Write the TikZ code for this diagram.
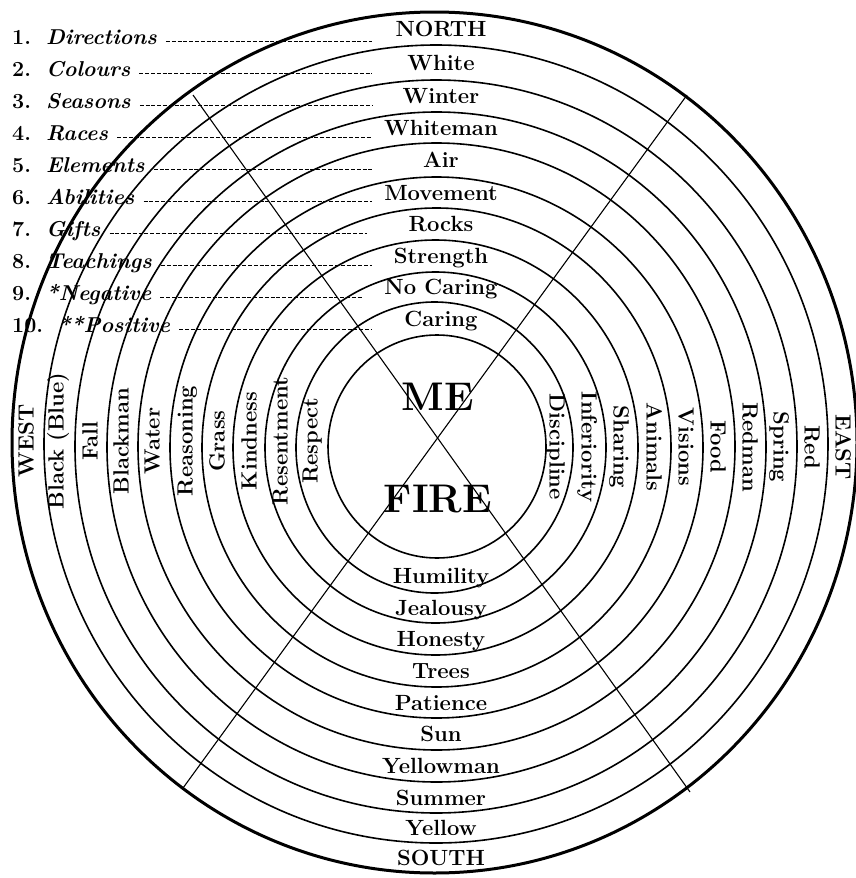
\documentclass[tikz,border=0pt]{standalone}
\usepackage{fontspec}
\usepackage{tikz}
\tikzset{
	ring/.style={line width=1.6pt},
	rim/.style={line width=3pt},
	spoke/.style={line width=1.1pt},
	guide/.style={line width=1.7pt, dash pattern=on 4pt off 1.8pt},
	lab/.style={font=\fontsize{22}{26}\selectfont\bfseries, inner sep=0pt, anchor=base},
	westlab/.style={lab, rotate=90},
	eastlab/.style={lab, rotate=-90},
	key/.style={font=\fontsize{21.5}{25}\selectfont\bfseries, inner sep=0pt, anchor=base west, text height=6pt, text depth=0pt},
	core/.style={font=\fontsize{40}{44}\selectfont\bfseries, inner sep=0pt, anchor=base}
}

\begin{document}
\begin{tikzpicture}[x=1pt,y=-1pt]
		%%%%% START %%%%%
		\useasboundingbox (0,0) rectangle (855,878);
		
		% rings, inner to outer
		\draw[ring] (437,446.5) ellipse [x radius=109pt, y radius=111.5pt];
		\draw[ring] (434.5,447.5) ellipse [x radius=138.5pt, y radius=145.5pt];
		\draw[ring] (435.5,447.5) ellipse [x radius=170.5pt, y radius=175.5pt];
		\draw[ring] (435.5,447.5) ellipse [x radius=202.5pt, y radius=207.5pt];
		\draw[ring] (436.5,447.5) ellipse [x radius=234.5pt, y radius=239.5pt];
		\draw[ring] (436.5,447.5) ellipse [x radius=266.5pt, y radius=270.5pt];
		\draw[ring] (436.5,446.5) ellipse [x radius=298.5pt, y radius=303.5pt];
		\draw[ring] (436.5,447) ellipse [x radius=329.5pt, y radius=335pt];
		\draw[ring] (436,446.5) ellipse [x radius=361pt, y radius=366.5pt];
		\draw[ring] (436,444) ellipse [x radius=392pt, y radius=399pt];
		\draw[rim] (434.5,442.5) ellipse [x radius=422.5pt, y radius=430.5pt];
		
		% the cross
		\coordinate (nw) at (193,95);
		\coordinate (se) at (690,792);
		\coordinate (ne) at (687,95);
		\coordinate (sw) at (183,788);
		\draw[spoke] (nw) -- (se);
		\draw[spoke] (ne) -- (sw);
		
		\node[core] (me) at (438,410) {ME};
		\node[core] (fire) at (438,512) {FIRE};
		
		% north
		\node[lab] (north) at (441,36) {NORTH};
		\node[lab] (white) at (441,70) {White};
		\node[lab] (winter) at (441,103.5) {Winter};
		\node[lab] (whiteman) at (441,135) {Whiteman};
		\node[lab] (air) at (441,167.5) {Air};
		\node[lab] (movement) at (441,200) {Movement};
		\node[lab] (rocks) at (441,231.5) {Rocks};
		\node[lab] (strength) at (441,263.5) {Strength};
		\node[lab] (nocaring) at (441,294.5) {No Caring};
		\node[lab] (caring) at (441,326) {Caring};
		
		% south
		\node[lab] (humility) at (441,583) {Humility};
		\node[lab] (jealousy) at (441,615.5) {Jealousy};
		\node[lab] (honesty) at (441,646.5) {Honesty};
		\node[lab] (trees) at (441,678.5) {Trees};
		\node[lab] (patience) at (441,710) {Patience};
		\node[lab] (sun) at (441,741.5) {Sun};
		\node[lab] (yellowman) at (441,773.5) {Yellowman};
		\node[lab] (summer) at (441,805) {Summer};
		\node[lab] (yellow) at (441,835.5) {Yellow};
		\node[lab] (south) at (441,865.5) {SOUTH};
		
		% west
		\node[westlab] (west) at (33.5,441) {WEST};
		\node[westlab] (black) at (63.5,441) {Black (Blue)};
		\node[westlab] (fall) at (97.5,441) {Fall};
		\node[westlab] (blackman) at (128.5,441) {Blackman};
		\node[westlab] (water) at (159.5,441) {Water};
		\node[westlab] (reasoning) at (192.5,441) {Reasoning};
		\node[westlab] (grass) at (224.5,441) {Grass};
		\node[westlab] (kindness) at (256.5,441) {Kindness};
		\node[westlab] (resentment) at (287.5,441) {Resentment};
		\node[westlab] (respect) at (317.5,441) {Respect};
		
		% east
		\node[eastlab] (discipline) at (549.5,447) {Discipline};
		\node[eastlab] (inferiority) at (581.5,447) {Inferiority};
		\node[eastlab] (sharing) at (613.5,447) {Sharing};
		\node[eastlab] (animals) at (646.5,447) {Animals};
		\node[eastlab] (visions) at (678.5,447) {Visions};
		\node[eastlab] (food) at (710.5,447) {Food};
		\node[eastlab] (redman) at (742.5,447) {Redman};
		\node[eastlab] (spring) at (773.5,447) {Spring};
		\node[eastlab] (red) at (804.5,447) {Red};
		\node[eastlab] (east) at (835.5,447) {EAST};
		
		% key
		\coordinate (gx) at (372,0);
		\node[key] (k1) at (12,44.5) {1.\hspace{0.7em}\textit{Directions}};
		\node[key] (k2) at (12,76.5) {2.\hspace{0.7em}\textit{Colours}};
		\node[key] (k3) at (12,108.5) {3.\hspace{0.7em}\textit{Seasons}};
		\node[key] (k4) at (12,140.5) {4.\hspace{0.7em}\textit{Races}};
		\node[key] (k5) at (12,172.5) {5.\hspace{0.7em}\textit{Elements}};
		\node[key] (k6) at (12,204.5) {6.\hspace{0.7em}\textit{Abilities}};
		\node[key] (k7) at (12,236.5) {7.\hspace{0.7em}\textit{Gifts}};
		\node[key] (k8) at (12,268.5) {8.\hspace{0.7em}\textit{Teachings}};
		\node[key] (k9) at (12,300.5) {9.\hspace{0.7em}\textit{*Negative}};
		\node[key] (k10) at (12,332.5) {10.\hspace{0.7em}\textit{**Positive}};
		
		\draw[guide] ([xshift=9pt]k1.east) -- (k1.east -| gx);
		\draw[guide] ([xshift=9pt]k2.east) -- (k2.east -| gx);
		\draw[guide] ([xshift=9pt]k3.east) -- (k3.east -| gx);
		\draw[guide] ([xshift=9pt]k4.east) -- (k4.east -| gx);
		\draw[guide] ([xshift=9pt]k5.east) -- (k5.east -| gx);
		\draw[guide] ([xshift=9pt]k6.east) -- (k6.east -| gx);
		\draw[guide] ([xshift=9pt]k7.east) -- ([xshift=-5pt]k7.east -| gx);
		\draw[guide] ([xshift=9pt]k8.east) -- (k8.east -| gx);
		\draw[guide] ([xshift=9pt]k9.east) -- ([xshift=-10pt]k9.east -| gx);
		\draw[guide] ([xshift=9pt]k10.east) -- (k10.east -| gx);
		
		%%%%% END %%%%%
	\end{tikzpicture}
\end{document}
